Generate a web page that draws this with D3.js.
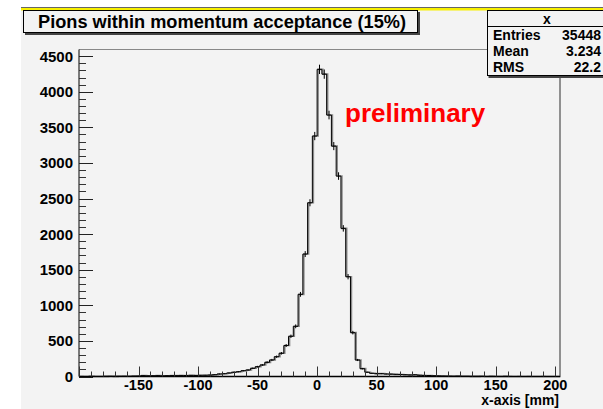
<!DOCTYPE html>
<html>
<head>
<meta charset="utf-8">
<script src="https://cdn.jsdelivr.net/npm/d3@7"></script>
<style>
  html, body { margin: 0; padding: 0; background: #fff; }
  svg { display: block; font-family: "Liberation Sans", Arial, Helvetica, sans-serif; font-weight: bold; }
</style>
</head>
<body>
<div id="chart"></div>
<script>
// Histogram: pion x position at momentum acceptance, 4 mm bins from -200 to 204
const xMin = -200;
const binWidth = 4;
const counts = [
  1, 0, 2, 1, 1, 2, 3, 2, 3, 4,
  3, 5, 6, 12, 9, 10, 12, 9, 11, 13,
  12, 15, 14, 16, 15, 17, 18,
  20, 25, 35, 39, 49, 59, 67, 81, 91, 115,
  138, 162, 199, 232, 278, 326, 435, 565, 705, 1154,
  1720, 2441, 3378, 4315, 4248, 3673, 3237, 2816, 2081, 1402,
  616, 232, 110, 60, 45, 40, 40, 35, 33, 30,
  28, 25, 22, 24, 18, 15, 14, 10,
  8, 6, 5, 4, 5, 3, 3, 2, 2, 3,
  1, 2, 1, 1, 2, 1, 0, 1, 0, 1,
  0, 0, 1, 0, 0, 0
];
const xLabels = [-150, -100, -50, 0, 50, 100, 150, 200];
const yLabels = [0, 500, 1000, 1500, 2000, 2500, 3000, 3500, 4000, 4500];
const yMax = 4594;

const titleText = 'Pions within momentum acceptance (15%)';
const xTitle = 'x-axis [mm]';
const statsName = 'x';
const statLabels = ['Entries', 'Mean', 'RMS'];
const statValues = ['35448', '3.234', '22.2'];

const width = 603, height = 409;
const bg = '#f3f3f3';

const svg = d3.select('#chart').append('svg')
    .attr('width', width)
    .attr('height', height);

// Canvas panel
svg.append('rect')
    .attr('x', 21).attr('y', 8)
    .attr('width', width - 21).attr('height', height - 8)
    .attr('fill', bg);
svg.append('line')
    .attr('x1', 21).attr('x2', width).attr('y1', 7.5).attr('y2', 7.5)
    .attr('stroke', '#666').attr('stroke-width', 1);
svg.append('rect')
    .attr('x', 21).attr('y', 8)
    .attr('width', width - 21).attr('height', 2.5)
    .attr('fill', '#f8f000');

// Scales
const frame = { left: 79, right: 560, top: 49.5, bottom: 376.5 };
const x = d3.scaleLinear()
    .domain([xMin, xMin + binWidth * counts.length])
    .range([frame.left, frame.right]);
const y = d3.scaleLinear()
    .domain([0, yMax])
    .range([frame.bottom, frame.top]);

// Frame (top / right)
svg.append('line')
    .attr('x1', frame.left).attr('x2', frame.right)
    .attr('y1', frame.top).attr('y2', frame.top)
    .attr('stroke', '#888').attr('stroke-width', 1);
svg.append('line')
    .attr('x1', frame.right).attr('x2', frame.right)
    .attr('y1', frame.top).attr('y2', frame.bottom)
    .attr('stroke', '#777').attr('stroke-width', 1.6);

// Histogram step path
const bins = counts.map((c, i) => ({ x0: xMin + i * binWidth, x1: xMin + (i + 1) * binWidth, n: c }));
const stepPts = [];
bins.forEach(b => {
    stepPts.push([x(b.x0), y(b.n)]);
    stepPts.push([x(b.x1), y(b.n)]);
});
const pathD = 'M' + x(xMin) + ',' + y(0) + 'L' + stepPts.map(p => p.join(',')).join('L');

// grey soft edge like the rasterized original
svg.append('path')
    .attr('d', pathD)
    .attr('transform', 'translate(1,0)')
    .attr('fill', 'none')
    .attr('stroke', '#8a8a8a')
    .attr('stroke-width', 1.6);
svg.append('path')
    .attr('d', pathD)
    .attr('fill', 'none')
    .attr('stroke', '#000')
    .attr('stroke-width', 1);

// Error bars
svg.append('g')
    .selectAll('line')
    .data(bins.filter(b => b.n > 0))
    .enter().append('line')
    .attr('x1', d => x((d.x0 + d.x1) / 2))
    .attr('x2', d => x((d.x0 + d.x1) / 2))
    .attr('y1', d => y(d.n - Math.sqrt(d.n)))
    .attr('y2', d => y(d.n + Math.sqrt(d.n)))
    .attr('stroke', '#000')
    .attr('stroke-width', 1);

// Y axis
svg.append('line')
    .attr('x1', frame.left).attr('x2', frame.left)
    .attr('y1', frame.top).attr('y2', frame.bottom)
    .attr('stroke', '#000');
const yMinor = d3.range(0, yMax, 100).filter(v => v % 500 !== 0);
svg.append('g').selectAll('line')
    .data(yMinor)
    .enter().append('line')
    .attr('x1', frame.left).attr('x2', frame.left + 7)
    .attr('y1', d => Math.round(y(d)) + 0.5).attr('y2', d => Math.round(y(d)) + 0.5)
    .attr('stroke', '#333');
svg.append('g').selectAll('line')
    .data(yLabels)
    .enter().append('line')
    .attr('x1', frame.left).attr('x2', frame.left + 14)
    .attr('y1', d => Math.round(y(d)) + 0.5).attr('y2', d => Math.round(y(d)) + 0.5)
    .attr('stroke', '#222');
svg.append('g').selectAll('text')
    .data(yLabels)
    .enter().append('text')
    .attr('x', 73)
    .attr('y', d => y(d) + 5.5)
    .attr('text-anchor', 'end')
    .attr('font-size', 15)
    .attr('fill', '#000')
    .text(d => d);

// X axis
svg.append('line')
    .attr('x1', frame.left).attr('x2', frame.right)
    .attr('y1', frame.bottom).attr('y2', frame.bottom)
    .attr('stroke', '#000').attr('stroke-width', 1.3);
const xMinor = d3.range(-190, 201, 10).filter(v => v % 50 !== 0);
svg.append('g').selectAll('line')
    .data(xMinor)
    .enter().append('line')
    .attr('x1', d => Math.round(x(d)) + 0.5).attr('x2', d => Math.round(x(d)) + 0.5)
    .attr('y1', frame.bottom).attr('y2', frame.bottom - 5)
    .attr('stroke', '#333');
svg.append('g').selectAll('line')
    .data([-200].concat(xLabels))
    .enter().append('line')
    .attr('x1', d => Math.round(x(d)) + 0.5).attr('x2', d => Math.round(x(d)) + 0.5)
    .attr('y1', frame.bottom).attr('y2', frame.bottom - 10)
    .attr('stroke', '#333');
svg.append('g').selectAll('text')
    .data(xLabels)
    .enter().append('text')
    .attr('x', d => x(d))
    .attr('y', 390)
    .attr('text-anchor', 'middle')
    .attr('font-size', 14.5)
    .attr('fill', '#000')
    .text(d => d);
svg.append('text')
    .attr('x', 559)
    .attr('y', 405)
    .attr('text-anchor', 'end')
    .attr('font-size', 14)
    .attr('fill', '#000')
    .text(xTitle);

// preliminary label
svg.append('text')
    .attr('x', 345)
    .attr('y', 122)
    .attr('font-size', 26)
    .attr('fill', '#ff0000')
    .text('preliminary');

// Title box
svg.append('rect')
    .attr('x', 23.5).attr('y', 10.5)
    .attr('width', 394).attr('height', 22)
    .attr('fill', bg)
    .attr('stroke', '#000');
svg.append('path')
    .attr('d', 'M419,12V34H25')
    .attr('fill', 'none')
    .attr('stroke', '#444')
    .attr('stroke-width', 2);
svg.append('text')
    .attr('x', 222)
    .attr('y', 28)
    .attr('text-anchor', 'middle')
    .attr('font-size', 17.5)
    .attr('textLength', 368)
    .attr('lengthAdjust', 'spacingAndGlyphs')
    .attr('fill', '#000')
    .text(titleText);

// Stats box
const sx = 487.5;
svg.append('rect')
    .attr('x', sx).attr('y', 10.5)
    .attr('width', 140).attr('height', 65)
    .attr('fill', bg)
    .attr('stroke', '#000');
svg.append('line')
    .attr('x1', sx + 1).attr('x2', width)
    .attr('y1', 77).attr('y2', 77)
    .attr('stroke', '#444').attr('stroke-width', 2);
svg.append('line')
    .attr('x1', sx).attr('x2', width)
    .attr('y1', 26.5).attr('y2', 26.5)
    .attr('stroke', '#000');
svg.append('text')
    .attr('x', 547)
    .attr('y', 23.5)
    .attr('text-anchor', 'middle')
    .attr('font-size', 14)
    .attr('fill', '#000')
    .text(statsName);
statLabels.forEach((lab, i) => {
    svg.append('text')
        .attr('x', 493)
        .attr('y', 40 + i * 16)
        .attr('font-size', 14)
        .attr('fill', '#000')
        .text(lab);
    svg.append('text')
        .attr('x', 601)
        .attr('y', 40 + i * 16)
        .attr('text-anchor', 'end')
        .attr('font-size', 14)
        .attr('fill', '#000')
        .text(statValues[i]);
});
</script>
</body>
</html>
